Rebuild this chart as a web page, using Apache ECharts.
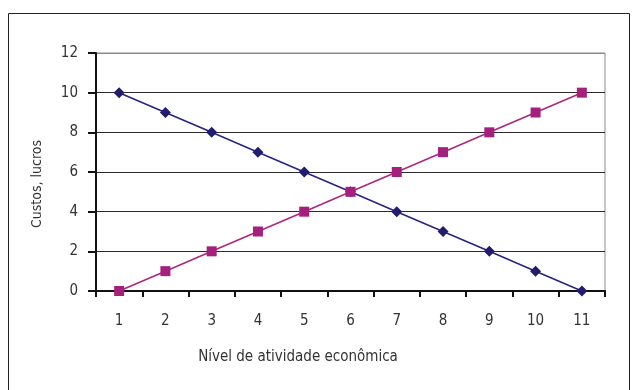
<!DOCTYPE html>
<html>
<head>
<meta charset="utf-8">
<style>
  html, body { margin: 0; padding: 0; background: #fff; }
  #chart { width: 632px; height: 390px; }
</style>
<script src="https://cdn.jsdelivr.net/npm/echarts@6/dist/echarts.min.js"></script>
</head>
<body>
<div id="chart"></div>
<script>
// Activity levels on the category axis
const categories = ['1', '2', '3', '4', '5', '6', '7', '8', '9', '10', '11'];
// Decreasing series (navy diamonds)
const seriesA = [10, 9, 8, 7, 6, 5, 4, 3, 2, 1, 0];
// Increasing series (magenta squares)
const seriesB = [0, 1, 2, 3, 4, 5, 6, 7, 8, 9, 10];
// Value axis ticks
const yTicks = [0, 2, 4, 6, 8, 10, 12];

const FONT = '"Liberation Sans Narrow", "DejaVu Sans Condensed", "Arial Narrow", sans-serif';
const chart = echarts.init(document.getElementById('chart'), null, { renderer: 'canvas' });

// gridlines are dark, the top one blends with the grey plot border
const splitColors = yTicks.map((v, i) => (i === yTicks.length - 1 ? '#8a8a8a' : '#2a2a2a'));

chart.setOption({
  animation: false,
  backgroundColor: '#fff',
  grid: { left: 96, right: 27, top: 53, bottom: 99, show: true, borderColor: '#8a8a8a', borderWidth: 1 },
  xAxis: {
    type: 'category',
    data: categories,
    boundaryGap: true,
    axisLine: { lineStyle: { color: '#111', width: 2 } },
    axisTick: { show: true, alignWithLabel: false, length: 6, lineStyle: { color: '#111', width: 2 } },
    axisLabel: { color: '#333', fontFamily: FONT, fontSize: 15, margin: 23 }
  },
  yAxis: {
    type: 'value',
    min: yTicks[0],
    max: yTicks[yTicks.length - 1],
    interval: yTicks[1] - yTicks[0],
    axisLine: { show: true, lineStyle: { color: '#111', width: 2 } },
    axisTick: { show: true, length: 8, lineStyle: { color: '#111', width: 2 } },
    axisLabel: { color: '#333', fontFamily: FONT, fontSize: 15, margin: 18 },
    splitLine: { show: true, lineStyle: { color: splitColors, width: 1 } }
  },
  series: [
    {
      name: 'A',
      type: 'line',
      data: seriesA,
      symbol: 'diamond',
      symbolSize: 11,
      lineStyle: { color: '#2a2480', width: 1.6 },
      itemStyle: { color: '#221c6e' }
    },
    {
      name: 'B',
      type: 'line',
      data: seriesB,
      symbol: 'rect',
      symbolSize: 10,
      lineStyle: { color: '#b0267f', width: 1.6 },
      itemStyle: { color: '#a51f7d' }
    }
  ],
  graphic: [
    {
      type: 'rect',
      shape: { x: 8.5, y: 13.5, width: 621, height: 400 },
      style: { fill: 'none', stroke: '#222', lineWidth: 1 },
      z: -1
    },
    {
      type: 'text',
      x: 37, y: 184,
      rotation: Math.PI / 2,
      style: { text: 'Custos, lucros', font: '14px ' + FONT, fill: '#333', textAlign: 'center', textVerticalAlign: 'middle' }
    },
    {
      type: 'text',
      x: 298, y: 357,
      style: { text: 'Nível de atividade econômica', font: '15px ' + FONT, fill: '#333', textAlign: 'center', textVerticalAlign: 'middle' }
    }
  ]
});
</script>
</body>
</html>
